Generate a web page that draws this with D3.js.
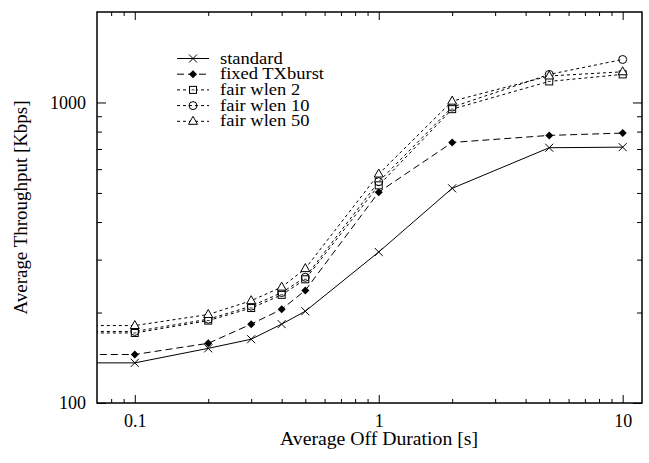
<!DOCTYPE html>
<html>
<head>
<meta charset="utf-8">
<script src="https://cdn.jsdelivr.net/npm/d3@7"></script>
<style>
  html, body { margin: 0; padding: 0; background: #fff; }
  svg { display: block; }
  text { font-family: "Liberation Serif", "Times New Roman", serif; fill: #000; }
</style>
</head>
<body>
<svg id="chart" width="649" height="463"></svg>
<script>
// ---- data ----
const offDurations = [0.01, 0.1, 0.2, 0.3, 0.4, 0.5, 1, 2, 5, 10];
const standard     = [136, 136, 152, 163, 183, 202, 318, 518, 707, 710];
const fixedTXburst = [145, 145, 158, 183, 205, 237, 503, 736, 777, 791];
const fairWlen2    = [171, 171, 188, 207, 229, 258, 530, 950, 1175, 1240];
const fairWlen10   = [173, 173, 190, 210, 233, 262, 545, 965, 1240, 1390];
const fairWlen50   = [181, 181, 197, 219, 243, 280, 578, 1010, 1225, 1265];
const seriesNames  = ["standard", "fixed TXburst", "fair wlen 2", "fair wlen 10", "fair wlen 50"];
const xMajorTicks  = [0.1, 1, 10];
const yMajorTicks  = [100, 1000];
const xTitle = "Average Off Duration [s]";
const yTitle = "Average Throughput [Kbps]";

const seriesValues = [standard, fixedTXburst, fairWlen2, fairWlen10, fairWlen50];
const dashes  = [null, "7,4", "3,3", "3,3", "3,3"];
const markers = ["cross", "diamond", "square", "circle", "triangle"];

const svg = d3.select("#chart");
const L = 97, R = 642, T = 12, B = 403;

const x = d3.scaleLog().domain([0.07, 12]).range([L, R]);
const y = d3.scaleLog().domain([100, 2000]).range([B, T]);

// minor ticks
const xMinor = [];
[0.01, 0.1, 1].forEach(d => { for (let k = 2; k <= 9; k++) { const v = +(d * k).toPrecision(3); if (v > 0.07 && v < 12) xMinor.push(v); } });
const yMinor = [];
[100, 1000].forEach(d => { for (let k = 2; k <= 9; k++) { const v = d * k; if (v < 2000) yMinor.push(v); } });

function styleAxis(g) {
  g.select(".domain").remove();
  g.selectAll(".tick line").attr("stroke", "#000").attr("stroke-width", 1);
  g.selectAll("text").style("font-size", "18px").style("font-family", "'Liberation Serif', serif");
}

// bottom
svg.append("g").attr("transform", `translate(0,${B})`)
  .call(d3.axisBottom(x).tickValues(xMajorTicks).tickFormat(d3.format("~g")).tickSize(-8).tickPadding(11))
  .call(styleAxis);
svg.append("g").attr("transform", `translate(0,${B})`)
  .call(d3.axisBottom(x).tickValues(xMinor).tickFormat("").tickSize(-4))
  .call(styleAxis);
// top
svg.append("g").attr("transform", `translate(0,${T})`)
  .call(d3.axisTop(x).tickValues(xMajorTicks).tickFormat("").tickSize(-8))
  .call(styleAxis);
svg.append("g").attr("transform", `translate(0,${T})`)
  .call(d3.axisTop(x).tickValues(xMinor).tickFormat("").tickSize(-4))
  .call(styleAxis);
// left
svg.append("g").attr("transform", `translate(${L},0)`)
  .call(d3.axisLeft(y).tickValues(yMajorTicks).tickFormat(d3.format("d")).tickSize(-9).tickPadding(11))
  .call(styleAxis);
svg.append("g").attr("transform", `translate(${L},0)`)
  .call(d3.axisLeft(y).tickValues(yMinor).tickFormat("").tickSize(-5))
  .call(styleAxis);
// right
svg.append("g").attr("transform", `translate(${R},0)`)
  .call(d3.axisRight(y).tickValues(yMajorTicks).tickFormat("").tickSize(-9))
  .call(styleAxis);
svg.append("g").attr("transform", `translate(${R},0)`)
  .call(d3.axisRight(y).tickValues(yMinor).tickFormat("").tickSize(-5))
  .call(styleAxis);

// clip
svg.append("clipPath").attr("id", "clip")
  .append("rect").attr("x", L).attr("y", T).attr("width", R - L).attr("height", B - T);

const line = d3.line().x(d => x(d[0])).y(d => y(d[1]));

function drawMarker(g, type, cx, cy) {
  if (type === "cross") {
    g.append("path").attr("d", `M${cx-4},${cy-4}L${cx+4},${cy+4}M${cx-4},${cy+4}L${cx+4},${cy-4}`)
      .attr("stroke", "#000").attr("stroke-width", 1).attr("fill", "none");
  } else if (type === "diamond") {
    g.append("path").attr("d", `M${cx},${cy-4}L${cx+4},${cy}L${cx},${cy+4}L${cx-4},${cy}Z`)
      .attr("fill", "#000");
  } else if (type === "square") {
    g.append("rect").attr("x", cx - 3.5).attr("y", cy - 3.5).attr("width", 7).attr("height", 7)
      .attr("fill", "#fff").attr("stroke", "#000").attr("stroke-width", 1);
    g.append("path").attr("d", `M${cx-1.5},${cy}L${cx+1.5},${cy}`).attr("stroke", "#000").attr("stroke-width", 0.8);
  } else if (type === "circle") {
    g.append("circle").attr("cx", cx).attr("cy", cy).attr("r", 4)
      .attr("fill", "none").attr("stroke", "#000").attr("stroke-width", 1);
  } else if (type === "triangle") {
    g.append("path").attr("d", `M${cx},${cy-5}L${cx+4.5},${cy+3}L${cx-4.5},${cy+3}Z`)
      .attr("fill", "#fff").attr("stroke", "#000").attr("stroke-width", 1);
  }
}

const plot = svg.append("g").attr("clip-path", "url(#clip)");
seriesValues.forEach((vals, i) => {
  const pts = offDurations.map((d, j) => [d, vals[j]]);
  plot.append("path").datum(pts).attr("d", line)
    .attr("fill", "none").attr("stroke", "#000").attr("stroke-width", 1)
    .attr("stroke-dasharray", dashes[i]);
});
seriesValues.forEach((vals, i) => {
  const mg = plot.append("g");
  offDurations.forEach((d, j) => {
    if (d >= 0.07) drawMarker(mg, markers[i], x(d), y(vals[j]));
  });
});

// border
svg.append("rect").attr("x", L).attr("y", T).attr("width", R - L).attr("height", B - T)
  .attr("fill", "none").attr("stroke", "#000").attr("stroke-width", 1.5);

// legend
const leg = svg.append("g");
const legTexts = [];
seriesNames.forEach((name, i) => {
  const cy = 58.5 + i * 15.7;
  leg.append("path").attr("d", `M177,${cy}L209,${cy}`)
    .attr("stroke", "#000").attr("stroke-width", 1).attr("stroke-dasharray", dashes[i]);
  drawMarker(leg, markers[i], 193, cy);
  legTexts.push(leg.append("text").attr("x", 220).attr("y", cy + 5)
    .style("font-size", "16px").text(name));
});
// stretch legend text horizontally to the reference width
const refW = legTexts[1].node().getComputedTextLength();
const legScale = refW > 0 ? 104 / refW : 1;
legTexts.forEach(t => {
  const w = t.node().getComputedTextLength();
  t.attr("textLength", w * legScale).attr("lengthAdjust", "spacingAndGlyphs");
});

// titles
const xt = svg.append("text").attr("x", 379).attr("y", 445).attr("text-anchor", "middle")
  .style("font-size", "18px").text(xTitle);
xt.attr("textLength", 198).attr("lengthAdjust", "spacingAndGlyphs");
const yt = svg.append("text").attr("transform", `translate(27,${(T + B) / 2}) rotate(-90)`)
  .attr("text-anchor", "middle").style("font-size", "18px").text(yTitle);
yt.attr("textLength", 214).attr("lengthAdjust", "spacingAndGlyphs");
</script>
</body>
</html>
